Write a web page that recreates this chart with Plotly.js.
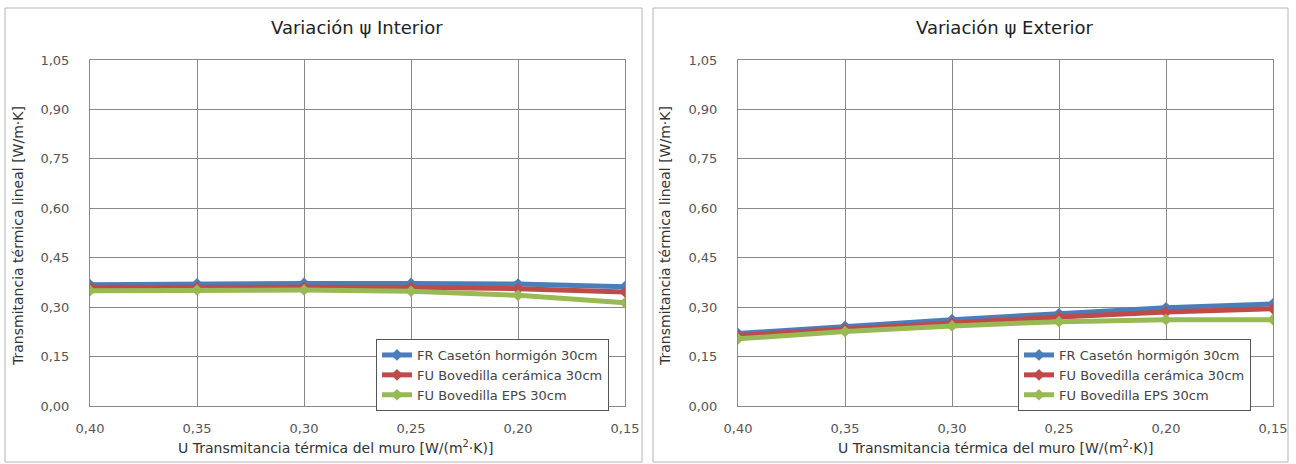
<!DOCTYPE html>
<html>
<head>
<meta charset="utf-8">
<script src="https://cdn.plot.ly/plotly-3.0.1.min.js"></script>
<style>html,body{margin:0;padding:0;background:#fff;}#chart{width:1296px;height:464px;}</style>
</head>
<body>
<div id="chart"></div>
<script>
const uValues = [0.40, 0.35, 0.30, 0.25, 0.20, 0.15];
const seriesNames = ["FR Casetón hormigón 30cm", "FU Bovedilla cerámica 30cm", "FU Bovedilla EPS 30cm"];
const seriesColors = ["#4A7EBB", "#BE4B48", "#98B954"];

// Variación ψ Interior
const interiorFR = [0.368, 0.371, 0.372, 0.372, 0.370, 0.362];
const interiorCeramica = [0.360, 0.361, 0.361, 0.360, 0.356, 0.346];
const interiorEPS = [0.350, 0.352, 0.352, 0.348, 0.336, 0.313];

// Variación ψ Exterior
const exteriorFR = [0.220, 0.242, 0.262, 0.280, 0.298, 0.310];
const exteriorCeramica = [0.214, 0.234, 0.252, 0.270, 0.285, 0.295];
const exteriorEPS = [0.204, 0.226, 0.243, 0.256, 0.262, 0.262];

const yTicks = [0, 0.15, 0.30, 0.45, 0.60, 0.75, 0.90, 1.05];

const W = 1296, H = 464;
const px = x => x / W;
const py = y => 1 - y / H;
const FONT = 'DejaVu Sans, Arial, sans-serif';

function mk(y, i, xa, ya, leg) {
  return {
    x: uValues, y: y, type: 'scatter', mode: 'lines+markers',
    name: seriesNames[i], xaxis: xa, yaxis: ya, legend: leg,
    line: {color: seriesColors[i], width: 5},
    marker: {color: seriesColors[i], symbol: 'diamond', size: 9}
  };
}

const data = [
  mk(interiorFR, 0, 'x', 'y', 'legend'),
  mk(interiorCeramica, 1, 'x', 'y', 'legend'),
  mk(interiorEPS, 2, 'x', 'y', 'legend'),
  mk(exteriorFR, 0, 'x2', 'y2', 'legend2'),
  mk(exteriorCeramica, 1, 'x2', 'y2', 'legend2'),
  mk(exteriorEPS, 2, 'x2', 'y2', 'legend2')
];

const tickFont = {family: FONT, size: 13, color: '#555'};
function xAx(domain, anchor) {
  return {
    domain: domain, anchor: anchor, range: [0.40, 0.15], tickvals: uValues, tickformat: '.2f',
    showgrid: true, gridcolor: '#8a8a8a', gridwidth: 1, zeroline: false,
    showline: true, linecolor: '#8a8a8a', linewidth: 1, mirror: true,
    ticks: '', ticklabelstandoff: 10, tickfont: tickFont, fixedrange: true
  };
}
function yAx(anchor) {
  return {
    domain: [py(406), py(60)], anchor: anchor, range: [0, 1.05], tickvals: yTicks, tickformat: '.2f',
    showgrid: true, gridcolor: '#8a8a8a', gridwidth: 1, zeroline: false,
    showline: true, linecolor: '#8a8a8a', linewidth: 1, mirror: true,
    ticks: '', ticklabelstandoff: 17, tickfont: tickFont, fixedrange: true
  };
}

const legendBase = {
  bgcolor: '#ffffff', bordercolor: '#555', borderwidth: 1,
  font: {family: FONT, size: 13, color: '#444'},
  xanchor: 'left', yanchor: 'top', tracegroupgap: 0, itemwidth: 30
};

const titleFont = {family: FONT, size: 18, color: '#222'};
const axTitleFont = {family: FONT, size: 14, color: '#333'};
const yTitleFont = {family: FONT, size: 14, color: '#333'};
const xTitle = 'U Transmitancia térmica del muro [W/(m<sup>2</sup>·K)]';
const yTitle = 'Transmitancia térmica lineal [W/m·K]';

function ann(text, x, y, font, angle) {
  return {text: text, x: px(x), y: py(y), xref: 'paper', yref: 'paper', showarrow: false,
          xanchor: 'center', yanchor: 'middle', textangle: angle || 0, font: font};
}

const annotations = [
  ann('Variación ψ Interior', 357, 28, titleFont),
  ann('Variación ψ Exterior', 1005, 28, titleFont),
  ann(xTitle, 335, 447, axTitleFont),
  ann(xTitle, 995, 447, axTitleFont),
  ann(yTitle, 18, 236, yTitleFont, -90),
  ann(yTitle, 665, 236, yTitleFont, -90)
];

const shapes = [
  {type: 'rect', xref: 'paper', yref: 'paper', x0: px(5), x1: px(642), y0: py(462), y1: py(8), line: {color: '#b5b5b5', width: 1}},
  {type: 'rect', xref: 'paper', yref: 'paper', x0: px(653), x1: px(1288), y0: py(462), y1: py(8), line: {color: '#b5b5b5', width: 1}}
];

const layout = {
  width: W, height: H,
  margin: {l: 0, r: 0, t: 0, b: 0},
  paper_bgcolor: '#ffffff', plot_bgcolor: '#ffffff',
  separators: ',.',
  font: {family: FONT},
  xaxis: xAx([px(90), px(625)], 'y'),
  yaxis: yAx('x'),
  xaxis2: xAx([px(738), px(1273)], 'y2'),
  yaxis2: yAx('x2'),
  legend: Object.assign({}, legendBase, {x: px(376), y: py(339)}),
  legend2: Object.assign({}, legendBase, {x: px(1018), y: py(339)}),
  annotations: annotations,
  shapes: shapes,
  showlegend: true
};

Plotly.newPlot('chart', data, layout, {displayModeBar: false, staticPlot: true});
</script>
</body>
</html>
